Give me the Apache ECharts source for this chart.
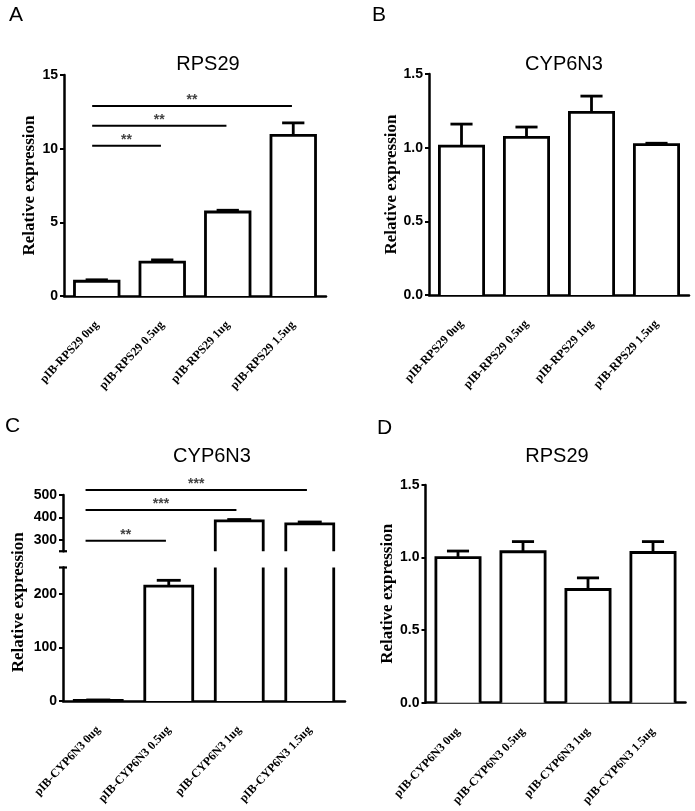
<!DOCTYPE html>
<html><head><meta charset="utf-8">
<script src="https://cdn.jsdelivr.net/npm/echarts@6/dist/echarts.min.js"></script>
<style>html,body{margin:0;padding:0;background:#fff}#c{width:695px;height:811px}</style>
</head><body><div id="c"></div>
<script>
// ---- data ----
const catsAB = ['pIB-RPS29 0ug', 'pIB-RPS29 0.5ug', 'pIB-RPS29 1ug', 'pIB-RPS29 1.5ug'];
const catsCD = ['pIB-CYP6N3 0ug', 'pIB-CYP6N3 0.5ug', 'pIB-CYP6N3 1ug', 'pIB-CYP6N3 1.5ug'];
const meanA = [1.0, 2.3, 5.7, 10.9];
const errA  = [0.1, 0.15, 0.12, 0.85];
const meanB = [1.01, 1.07, 1.24, 1.02];
const errB  = [0.15, 0.07, 0.11, 0.01];
const meanC = [1, 215, 385, 372];
const errC  = [1, 11, 6, 8];
const meanD = [1.0, 1.04, 0.78, 1.035];
const errD  = [0.045, 0.07, 0.08, 0.075];
// significance brackets: [fromIndex, toIndex, yValue, label]
const sigA = [[0, 3, 12.9, '**'], [0, 2, 11.55, '**'], [0, 1, 10.2, '**']];
const sigC = [[0, 3, 522, '***'], [0, 2, 433, '***'], [0, 1, 297, '**']];
const ticksC_upper = [300, 400, 500];
const ticksC_lower = [0, 100, 200];
const breakC = 250;
const titlesPanel = ['RPS29', 'CYP6N3', 'CYP6N3', 'RPS29'];
const letters = ['A', 'B', 'C', 'D'];
const yName = 'Relative expression';

// ---- styles ----
const BLACK = '#000';
const serif = 'Liberation Serif';
const sans = 'Liberation Sans';
const BAR_FRAC = 0.68;
const TICK_FONT = 14;

function barSeries(xi, yi, means, errs, lo, hi) {
  return {
    type: 'custom', xAxisIndex: xi, yAxisIndex: yi, clip: false, silent: true,
    data: means.map((m, i) => [i, m, errs[i]]),
    renderItem(params, api) {
      const i = api.value(0), v = api.value(1), e = api.value(2);
      if (v < lo) return null;
      const band = api.size([1, 0])[0];
      const w = band * BAR_FRAC;
      const cx = api.coord([i, lo])[0];
      const yb = api.coord([i, Math.max(lo, 0)])[1];
      const yt = api.coord([i, Math.min(v, hi)])[1];
      const x0 = cx - w / 2, x1 = cx + w / 2;
      const st = { stroke: BLACK, lineWidth: 2.8, fill: null, lineJoin: 'miter' };
      const ch = [{ type: 'rect', shape: { x: x0, y: yt, width: w, height: yb - yt }, style: { fill: '#fff' } }];
      if (v <= hi) {
        ch.push({ type: 'polyline', shape: { points: [[x0, yb], [x0, yt], [x1, yt], [x1, yb]] }, style: st });
        const ye = api.coord([i, v + e])[1];
        ch.push({ type: 'line', shape: { x1: cx, y1: yt, x2: cx, y2: ye }, style: st });
        ch.push({ type: 'line', shape: { x1: cx - w / 4, y1: ye, x2: cx + w / 4, y2: ye }, style: st });
      } else {
        ch.push({ type: 'line', shape: { x1: x0, y1: yb, x2: x0, y2: yt }, style: st });
        ch.push({ type: 'line', shape: { x1: x1, y1: yb, x2: x1, y2: yt }, style: st });
      }
      return { type: 'group', children: ch };
    }
  };
}

function sigSeries(xi, yi, sig, startOff, endOff) {
  return {
    type: 'custom', xAxisIndex: xi, yAxisIndex: yi, clip: false, silent: true,
    data: sig.map(s => [s[0], s[2], s[1]]),
    renderItem(params, api) {
      const band = api.size([1, 0])[0];
      const p0 = api.coord([api.value(0), api.value(1)]);
      const p1 = api.coord([api.value(2), api.value(1)]);
      const xa = p0[0] + startOff * band, xb = p1[0] + endOff * band;
      return { type: 'group', children: [
        { type: 'line', shape: { x1: xa, y1: p0[1], x2: xb, y2: p0[1] }, style: { stroke: BLACK, lineWidth: 2 } },
        { type: 'text', style: { text: sig[params.dataIndex][3], x: (xa + xb) / 2, y: p0[1] - 6,
          align: 'center', verticalAlign: 'middle', fontSize: 14, fontWeight: 'bold', fontFamily: sans, fill: '#444' } }
      ]};
    }
  };
}

function breakSeries(xi, yi, val) {
  return {
    type: 'custom', xAxisIndex: xi, yAxisIndex: yi, clip: false, silent: true,
    data: [[0, val]],
    renderItem(params, api) {
      const band = api.size([1, 0])[0];
      const p = api.coord([0, api.value(1)]);
      const x = p[0] - band / 2;
      return { type: 'line', shape: { x1: x - 4, y1: p[1], x2: x + 4, y2: p[1] }, style: { stroke: BLACK, lineWidth: 2.2 } };
    }
  };
}

function xAxis(gi, cats, show) {
  return {
    type: 'category', gridIndex: gi, data: cats, show: show,
    axisLine: { lineStyle: { color: BLACK, width: 2.5 } },
    axisTick: { alignWithLabel: true, length: 5, lineStyle: { color: BLACK, width: 2 } },
    axisLabel: { rotate: 47, interval: 0, margin: 27, color: BLACK, fontFamily: serif, fontWeight: 'bold', fontSize: 12 }
  };
}
function yAxis(gi, min, max, interval, fmt, name, nameGap, extra) {
  const a = {
    type: 'value', gridIndex: gi, min: min, max: max, interval: interval,
    splitLine: { show: false },
    axisLine: { show: true, lineStyle: { color: BLACK, width: 2.5 } },
    axisTick: { show: true, length: 4, lineStyle: { color: BLACK, width: 2 } },
    axisLabel: { color: BLACK, fontFamily: sans, fontWeight: 'bold', fontSize: TICK_FONT, margin: 6, formatter: fmt },
    name: name, nameLocation: 'middle', nameGap: nameGap, nameRotate: 90,
    nameTextStyle: { color: BLACK, fontFamily: serif, fontWeight: 'bold', fontSize: 17 }
  };
  return Object.assign(a, extra || {});
}

const chart = echarts.init(document.getElementById('c'), null, { renderer: 'canvas' });
const option = {
  backgroundColor: '#fff',
  animation: false,
  title: [
    { text: letters[0], left: 9, top: 5, padding: 0, textStyle: { fontFamily: sans, fontWeight: 'normal', fontSize: 21, color: BLACK } },
    { text: letters[1], left: 372, top: 5, padding: 0, textStyle: { fontFamily: sans, fontWeight: 'normal', fontSize: 21, color: BLACK } },
    { text: letters[2], left: 5, top: 416, padding: 0, textStyle: { fontFamily: sans, fontWeight: 'normal', fontSize: 21, color: BLACK } },
    { text: letters[3], left: 377, top: 418, padding: 0, textStyle: { fontFamily: sans, fontWeight: 'normal', fontSize: 21, color: BLACK } },
    { text: titlesPanel[0], left: 208, top: 54, textAlign: 'center', padding: 0, textStyle: { fontFamily: sans, fontWeight: 'normal', fontSize: 20, color: BLACK } },
    { text: titlesPanel[1], left: 564, top: 54, textAlign: 'center', padding: 0, textStyle: { fontFamily: sans, fontWeight: 'normal', fontSize: 20, color: BLACK } },
    { text: titlesPanel[2], left: 212, top: 446, textAlign: 'center', padding: 0, textStyle: { fontFamily: sans, fontWeight: 'normal', fontSize: 20, color: BLACK } },
    { text: titlesPanel[3], left: 557, top: 446, textAlign: 'center', padding: 0, textStyle: { fontFamily: sans, fontWeight: 'normal', fontSize: 20, color: BLACK } }
  ],
  grid: [
    { left: 64, top: 75, width: 262, height: 221 },      // A
    { left: 429, top: 74, width: 260, height: 221 },     // B
    { left: 63, top: 495, width: 282, height: 56.25 },   // C upper
    { left: 63, top: 567.5, width: 282, height: 133.5 }, // C lower
    { left: 425.5, top: 485, width: 260, height: 217.7 } // D
  ],
  xAxis: [
    xAxis(0, catsAB, true),
    xAxis(1, catsAB, true),
    xAxis(2, catsCD, false),
    xAxis(3, catsCD, true),
    xAxis(4, catsCD, true)
  ],
  yAxis: [
    yAxis(0, 0, 15, 5, null, yName, 24),
    yAxis(1, 0, 1.5, 0.5, v => v.toFixed(1), yName, 28),
    yAxis(2, breakC, 500, 50, null, '', 0, {
      axisTick: { show: true, length: 4, customValues: ticksC_upper, lineStyle: { color: BLACK, width: 2 } },
      axisLabel: { color: BLACK, fontFamily: sans, fontWeight: 'bold', fontSize: TICK_FONT, margin: 6, customValues: ticksC_upper }
    }),
    yAxis(3, 0, breakC, 50, null, yName, 36, {
      axisTick: { show: true, length: 4, customValues: ticksC_lower, lineStyle: { color: BLACK, width: 2 } },
      axisLabel: { color: BLACK, fontFamily: sans, fontWeight: 'bold', fontSize: TICK_FONT, margin: 6, customValues: ticksC_lower },
      nameTextStyle: { color: BLACK, fontFamily: serif, fontWeight: 'bold', fontSize: 17, padding: [0, 0, 0, 64] }
    }),
    yAxis(4, 0, 1.5, 0.5, v => v.toFixed(1), yName, 29)
  ],
  series: [
    barSeries(0, 0, meanA, errA, 0, 15),
    sigSeries(0, 0, sigA, -0.07, -0.02),
    barSeries(1, 1, meanB, errB, 0, 1.5),
    barSeries(2, 2, meanC, errC, breakC, 500),
    barSeries(3, 3, meanC, errC, 0, breakC),
    sigSeries(2, 2, sigC, -0.18, -0.04),
    breakSeries(2, 2, breakC),
    breakSeries(3, 3, breakC),
    barSeries(4, 4, meanD, errD, 0, 1.5)
  ]
};
chart.setOption(option);
</script>
</body></html>
